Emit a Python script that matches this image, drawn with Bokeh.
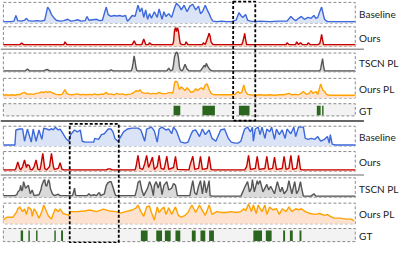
from bokeh.plotting import figure
from bokeh.models import Range1d, Label
from bokeh.embed import file_html
from bokeh.resources import INLINE

# ---------------- data (frame index, signal value) ----------------
top_baseline = [(3,1.5),(10,1.5),(14,2),(16,8),(18,2.5),(22,2),(25,3),(27,5),(29,2.5),(33,2),(38,2.5),(42,2),(46,3),(49,17),(51,14),(53,9),(56,5),(58,3),(62,2),(66,2.5),(70,4),(73,2),(77,2.5),(80,3.5),(84,2),(88,2.5),(90,7),(92,3),(96,3.5),(100,4),(103,2.5),(106,3),(110,17),(112,9),(115,7),(118,8),(121,7.5),(124,8),(127,7),(130,8),(132,2),(134,4),(137,8),(140,7),(143,19),(145,12),(147,16),(149,6),(151,14),(153,4),(155,10),(157,5),(160,12),(163,6),(165,15),(168,4),(170,12),(172,7),(175,10),(178,6),(181,16),(183,21),(186,18),(188,14),(191,19),(194,12),(197,18),(200,20),(203,14),(206,18),(208,10),(210,12),(213,19),(215,14),(217,10),(219,5),(221,2),(225,1.5),(230,2),(235,1.5),(240,1.5),(245,3),(248,11),(250,8),(252,6),(255,9),(257,3),(260,2),(265,1.5),(270,2),(280,1.5),(290,2),(298,2),(302,7),(305,4),(307,2.5),(310,5),(313,7),(316,4),(320,6),(323,5),(326,8),(328,5),(330,6),(332,12),(334,17),(336,8),(337,4),(340,1.5),(350,1.5),(360,1.5),(369,1.5)]
top_ours = [(3,2),(20,2),(22,3.5),(24,2),(50,2),(66,2),(67,5),(69,2),(100,2),(120,2),(137,2),(139,6),(141,2),(147,2),(149,8),(151,2),(154,2),(155,4),(157,2),(175,2),(179,2),(180,5),(181,17),(182,20),(183,16),(184,20),(185,17),(186,9),(187,3),(189,2),(192,2),(193,5),(195,2),(205,2),(210,2),(211,4),(213,2),(215,8),(216,11),(217,14),(218,11),(219,5),(221,2),(240,2),(251,2),(252,5),(253,9),(254,14),(255,7),(256,2),(290,2),(297,2),(298,4),(300,2),(307,2),(308,5),(310,2),(312,4),(314,2),(319,2),(320,4),(322,2),(330,2),(332,3),(333,7),(334,13),(335,7),(336,2),(369,2)]
top_tscn = [(3,1),(26,1),(28,3),(30,1),(45,1),(47,2),(49,2.5),(51,1),(113,1),(115,2),(117,1),(136,1),(137,4),(138,10),(139,17),(140,11),(141,4),(142,1),(173,1),(175,4),(177,1),(179,2),(180,8),(181,16),(182,19),(183,21),(184,20),(185,16),(186,6),(187,2),(189,1),(190,3),(192,8),(194,3),(196,1),(208,1),(210,4),(212,7),(213,5),(214,9),(216,5),(218,2),(220,1),(332,1),(333,3),(334,9),(335,14),(336,6),(337,1),(369,1)]
top_ours_pl = [(3,3),(6,3.5),(9,3),(12,3.5),(15,3),(18,4),(20,3.5),(22,5),(25,6),(28,4),(31,4.5),(34,4),(37,5),(40,5.5),(43,6.5),(45,6),(47,7),(49,6),(51,7),(53,6),(55,5),(58,4),(61,3.5),(64,4),(67,9),(69,5),(71,4),(74,3.5),(77,4),(80,4.5),(83,3.5),(86,4),(89,3.5),(92,4),(95,3.5),(98,4.5),(101,3.5),(104,4),(107,4),(110,6),(112,4),(115,4.5),(118,3.5),(121,5),(124,4),(127,4.5),(130,3.5),(133,4),(136,4.5),(139,6),(141,8),(143,7),(145,9),(147,6),(150,5),(153,5.5),(156,4.5),(159,5),(162,4.5),(165,6),(167,5),(170,4.5),(173,5),(176,6),(179,5),(180,9),(181,16),(182,18),(184,17),(186,9),(188,12),(190,10),(192,8),(194,11),(196,9),(198,6),(201,7),(203,10),(205,8),(207,10),(209,11),(211,9),(213,14),(215,15),(217,9),(219,5),(221,4),(224,3.5),(228,3.5),(232,3.5),(236,3.5),(240,3.5),(244,4),(247,7),(249,5),(251,6),(253,14),(255,7),(257,4),(260,3.5),(265,3),(270,3.5),(275,3),(280,3.5),(285,3),(290,3.5),(295,3.5),(300,5),(303,3.5),(306,4),(309,3.5),(312,4.5),(315,7),(318,4),(321,5),(323,8),(325,5),(328,7),(330,4),(333,15),(335,9),(337,7),(339,4),(342,3),(350,3),(360,3),(369,3)]
top_gt_start = [180, 210, 248, 329, 334.5]
top_gt_end = [187, 223, 259, 333, 336]

bot_baseline = [(3,1),(15,1),(16,17),(20,18),(23,18),(25,5),(28,18),(32,4),(34,18),(37,5),(40,17),(43,7),(45,19),(48,18),(51,17),(53,18.5),(55,17),(57,20),(60,17),(62,18),(65,13),(68,8),(71,5),(73,12),(77,17),(80,15),(83,17),(85,5),(88,4),(92,4),(97,4),(98,8),(102,7),(105,12),(108,13),(112,18),(115,18),(117,15),(119,8),(122,5),(124,8),(128,15),(132,18),(137,19),(143,19),(146,17),(150,5),(152,18),(157,20),(160,16),(163,4),(165,18),(168,20),(172,17),(175,18),(178,13),(180,20),(183,16),(187,5),(188,4),(192,3),(195,4),(198,12),(200,16),(203,17),(207,10),(210,18),(213,12),(217,17),(220,8),(224,5),(229,17),(233,18),(237,8),(240,4),(244,3),(247,3),(250,5),(252,12),(254,18),(257,20),(260,15),(262,20),(263,5),(265,18),(268,20),(270,12),(272,20),(275,8),(277,18),(280,15),(282,20),(285,7),(287,18),(290,12),(293,17),(296,8),(298,18),(302,13),(305,20),(307,10),(310,20),(315,20),(317,8),(320,7),(323,8),(327,7),(330,10),(333,5),(337,7),(340,10),(342,3),(343,12),(345,2),(348,1),(369,1)]
bot_ours = [(3,1.5),(15,1.5),(16,3),(18,10),(20,3),(21,1.5),(23,5),(25,12),(27,4),(28,7),(30,6),(31,2),(33,1.5),(35,5),(37,12),(39,2),(41,1.5),(42,6),(44,19),(46,3),(48,1.5),(51,5),(53,19),(55,5),(56,2),(60,3),(62,9),(64,2),(66,1.5),(110,1.5),(112,2.5),(114,2.5),(116,1.5),(140,1.5),(141,5),(143,17),(145,3),(148,2),(150,8),(152,17),(154,4),(156,9),(158,15),(160,2),(163,5),(165,17),(167,3),(170,2),(171,6),(173,16),(175,2),(180,4),(182,16),(184,2),(196,1.5),(197,6),(200,16),(202,2),(206,3),(208,16),(210,2),(215,3),(217,16),(219,2),(221,1.5),(254,1.5),(256,5),(258,17),(260,2),(265,3),(267,16),(269,2),(275,3),(277,16),(279,2),(283,3),(285,15),(287,2),(293,3),(295,16),(297,2),(300,3),(302,17),(304,2),(308,3),(310,17),(312,2),(314,1.5),(369,1.5)]
bot_tscn = [(3,2),(15,2),(17,3),(18,6),(20,8),(21,13),(22,7),(23,9),(24,17),(26,10),(27,11),(29,13),(31,4),(33,8),(35,2),(40,3),(42,8),(43,13),(45,18),(46,19),(47,13),(48,12),(50,19),(51,16),(52,9),(54,4),(56,2),(60,3.5),(62,2),(65,2),(75,2),(76,6),(77,10),(78,3),(79,2),(90,2),(92,4),(94,2),(97,3),(100,2),(102,5),(103,5),(104,2),(108,4),(110,13),(112,16),(114,17),(115,17),(117,11),(119,4),(120,2),(140,2),(142,10),(143,16),(145,18),(147,8),(149,2),(153,10),(155,17),(157,12),(159,2),(160,13),(162,17),(164,10),(166,17),(168,3),(170,13),(173,17),(175,8),(178,10),(180,15),(182,13),(184,2),(190,2),(197,2),(198,8),(200,18),(202,5),(204,3),(206,12),(208,18),(210,4),(212,18),(214,5),(217,18),(218,2),(220,1.5),(250,1.5),(252,6),(254,11),(257,17),(259,6),(261,10),(262,19),(264,6),(267,18),(268,14),(270,18),(273,6),(277,14),(279,8),(281,12),(285,4),(288,17),(291,6),(293,11),(295,4),(298,8),(300,18),(303,4),(306,17),(308,4),(310,8),(312,17),(313,11),(315,1.5),(323,1.5),(326,4),(328,1.5),(369,1.5)]
bot_ours_pl = [(3,4),(5,6),(7,7),(13,7),(17,13),(18,16),(20,18),(23,13),(25,16),(27,10),(29,18),(32,15),(33,8),(35,16),(37,13),(40,6),(43,13),(45,20),(47,15),(50,8),(53,5),(55,11),(57,16),(60,13),(62,16),(65,11),(68,10),(71,9),(73,13),(80,13),(87,13.7),(93,14.7),(100,13),(107,15.7),(113,13.7),(120,13),(125,11.3),(130,13),(137,14.7),(141,17),(143,20),(146,13),(149,8),(152,18),(155,19),(157,12),(160,4),(163,18),(165,12),(167,15),(170,18),(172,10),(175,17),(178,10),(182,18),(185,9),(188,7),(192,9),(195,12),(199,20),(203,12),(207,20),(210,14),(213,9),(217,20),(220,10),(225,13),(230,12),(235,12),(240,13),(245,12),(250,13),(253,16),(255,14),(258,21),(261,13),(263,20),(266,11),(268,20),(272,13),(275,20),(277,10),(280,18),(283,15),(287,16),(290,10),(293,16),(297,13),(300,18),(303,13),(307,16),(310,15),(313,16),(317,13),(322,11),(327,10),(332,11),(337,9),(340,10),(343,8),(347,6),(353,6),(360,5),(365,5),(368,3)]
bot_gt_start = [21, 29, 37, 56, 63, 146, 162, 171, 182, 199, 208, 217, 263, 276, 294, 301, 311]
bot_gt_end = [23.5, 30.5, 38.5, 57.5, 65, 153, 168, 177, 187, 203, 213, 222, 272, 282, 296, 304, 313]

labels = ["Baseline", "Ours", "TSCN PL", "Ours PL", "GT"]

# ---------------- layout (reference pixel frame) ----------------
W_REF, H_REF = 415, 259
BOX_L, BOX_R = 3, 369
top_boxes = [(2, 24), (28, 49), (56, 76), (83, 104), (110, 123)]
bot_boxes = [(134, 155), (161, 182), (189, 210), (216, 238), (243, 257)]

styles = [
    ("#3d68dc", "#dbe4f6"),   # Baseline
    ("#c40000", "#f9d6c8"),   # Ours
    ("#555555", "#d9d9d9"),   # TSCN PL
    ("#ffa200", "#fde2d0"),   # Ours PL
]
GT_COLOR = "#2b661e"


def band(y_zero, y_one, v_one=1.0):
    k = v_one / (y_zero - y_one)
    return Range1d(start=(y_zero - H_REF) * k, end=y_zero * k)


p = figure(width=399, height=243, x_range=Range1d(0, W_REF), y_range=Range1d(H_REF, 0),
           output_backend="svg", toolbar_location=None, x_axis_type=None, y_axis_type=None,
           min_border=0, min_border_left=0, min_border_right=0, min_border_top=0,
           min_border_bottom=0, outline_line_color=None)
p.grid.visible = False
p.background_fill_color = "white"
p.border_fill_color = "white"

groups = [
    ("t", top_boxes, [top_baseline, top_ours, top_tscn, top_ours_pl], (top_gt_start, top_gt_end)),
    ("b", bot_boxes, [bot_baseline, bot_ours, bot_tscn, bot_ours_pl], (bot_gt_start, bot_gt_end)),
]

for gname, boxes, series, (gs, ge) in groups:
    for i, (top, bottom) in enumerate(boxes):
        is_gt = i == 4
        p.quad(left=BOX_L, right=BOX_R, top=top, bottom=bottom,
               fill_color="#f3f3f3" if is_gt else "white",
               line_color="#8a8a8a", line_dash="3 2", line_width=1)
        rname = f"{gname}{i}"
        if is_gt:
            p.extra_y_ranges[rname] = band(bottom - 0.7, top + 2.2, 1.0)
            p.quad(left=gs, right=ge, bottom=0, top=1, y_range_name=rname,
                   fill_color=GT_COLOR, line_color=None)
        else:
            p.extra_y_ranges[rname] = band(bottom, bottom - 1, 1.0)
            xs = [a for a, _ in series[i]]
            ys = [b for _, b in series[i]]
            lc, fc = styles[i]
            p.varea(x=xs, y1=0, y2=ys, y_range_name=rname, fill_color=fc, fill_alpha=1.0)
            p.line(x=xs, y=ys, y_range_name=rname, line_color=lc, line_width=1.4)
        p.add_layout(Label(x=373, y=(top + bottom) / 2 + 1, text=labels[i],
                           text_baseline="middle", text_align="left",
                           text_font="Lato", text_font_size="10px", text_color="#1a1a1a"))

# separators
p.segment(x0=[0, 0], x1=[378, 378], y0=[52, 186], y1=[52, 186], line_color="#9a9a9a", line_width=1.5)
p.segment(x0=[0], x1=[378], y0=[128.5], y1=[128.5], line_color="#333333", line_width=1.6)

# highlight boxes
p.quad(left=[242, 72], right=[265, 123], top=[1, 131.5], bottom=[128, 258],
       fill_alpha=0, line_color="black", line_dash="3 2", line_width=1.8)

open("out.html", "w").write(file_html(p, INLINE))
